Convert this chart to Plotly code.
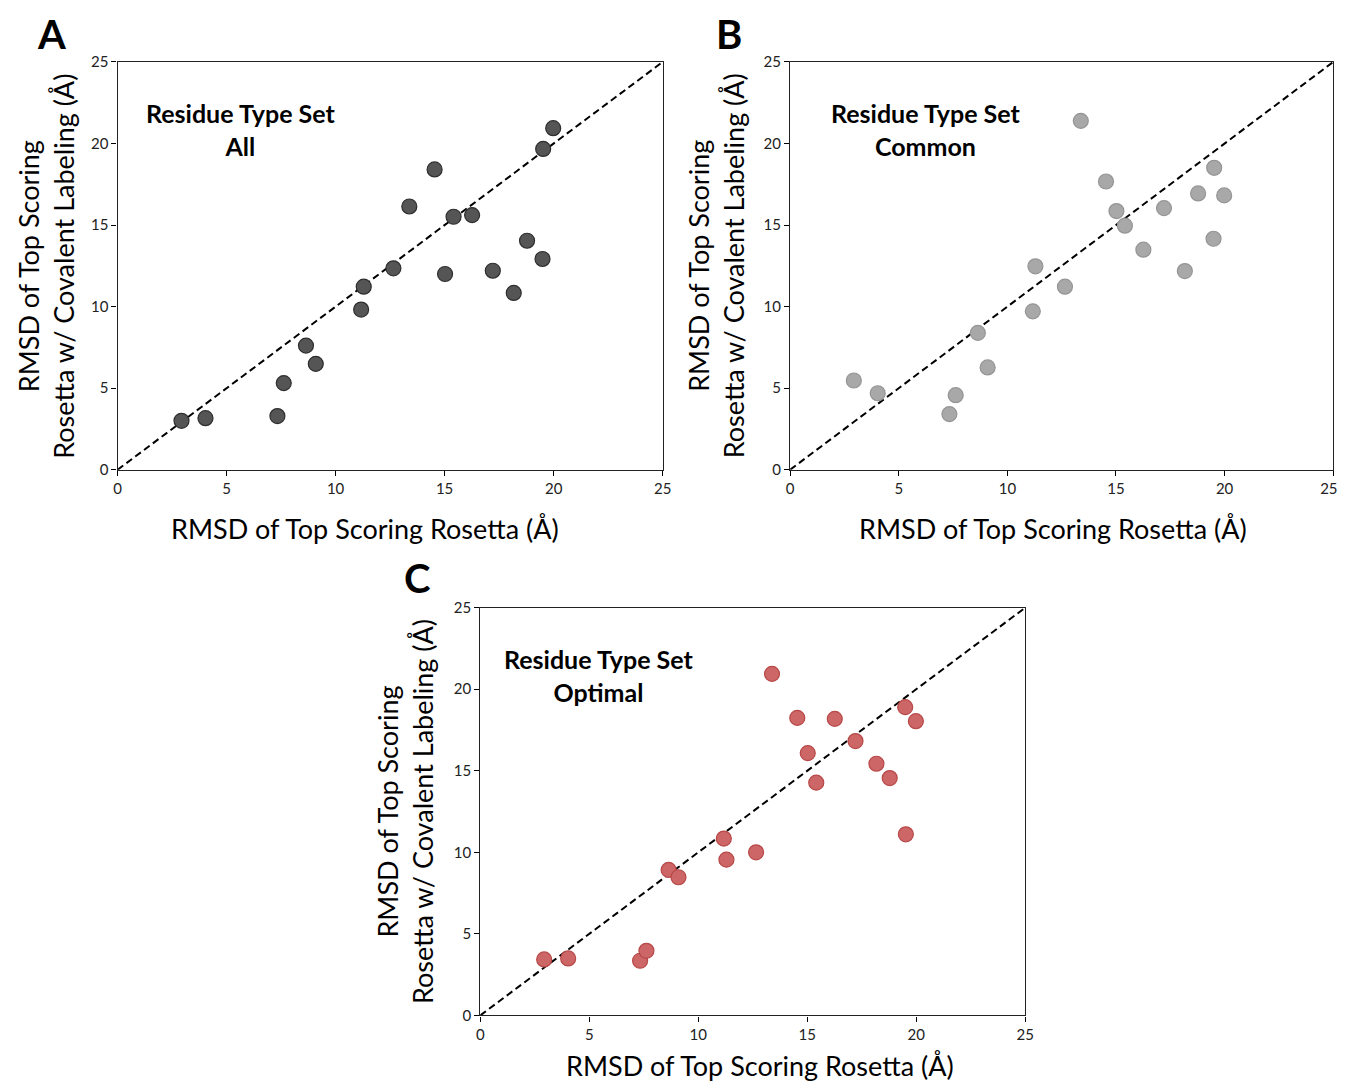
import plotly.graph_objects as go

W, H = 1351, 1084

# ---- data ----
rmsd_rosetta = [2.93, 4.03, 7.33, 7.62, 8.64, 9.09, 11.17, 11.29, 12.65, 13.38,
                14.54, 15.02, 15.41, 16.26, 17.21, 18.17, 18.78, 19.49, 19.52, 19.98]
rmsd_all = [3.0, 3.16, 3.29, 5.31, 7.61, 6.49, 9.82, 11.22, 12.35, 16.14,
            18.41, 12.0, 15.51, 15.61, 12.2, 10.84, 14.04, 12.92, 19.67, 20.94]
rmsd_common = [5.47, 4.69, 3.41, 4.57, 8.39, 6.27, 9.71, 12.47, 11.22, 21.39,
               17.67, 15.86, 14.96, 13.49, 16.04, 12.18, 16.94, 14.16, 18.51, 16.82]
rmsd_optimal = [3.43, 3.49, 3.35, 3.96, 8.92, 8.47, 10.84, 9.55, 10.0, 20.94,
                18.24, 16.08, 14.27, 18.18, 16.82, 15.43, 14.55, 18.9, 11.1, 18.04]
panel_sets = ["All", "Common", "Optimal"]
panel_letters = ["A", "B", "C"]
diag = [0, 25]
tick_vals = [0, 5, 10, 15, 20, 25]
tick_labels = ["0", "5", "10", "15", "20", "25"]

# ---- layout: positions measured on the reference picture (pixels) ----
boxes = {  # left, right, top, bottom
    "A": (118, 665, 61, 469),
    "B": (793, 1338, 61, 469),
    "C": (482, 1029, 607, 1015),
}
styles = {
    "A": dict(fill="rgba(85,85,85,1)", line="#2e2e2e"),
    "B": dict(fill="rgba(168,168,168,1)", line="#959595"),
    "C": dict(fill="rgba(205,102,102,1)", line="#b84848"),
}
ydata = {"A": rmsd_all, "B": rmsd_common, "C": rmsd_optimal}
FONT = "Lato"

# calibration from the rendered picture to the figure's pixel grid
SX, CX = 0.991, 12.0
SY, CY = 0.984, 17.0


def fx(x):
    return (x - CX) / SX


def fy(y):
    return (y - CY) / SY


def px(x):
    return fx(x) / W


def py(y):
    return 1 - fy(y) / H


fig = go.Figure()
annotations = []
layout_axes = {}

for i, key in enumerate(panel_letters):
    l, r, t, b = boxes[key]
    n = "" if i == 0 else str(i + 1)
    xa, ya = "x" + n, "y" + n
    fig.add_trace(go.Scatter(
        x=diag, y=diag, mode="lines", xaxis=xa, yaxis=ya,
        line=dict(color="black", width=2, dash="7px,4px"),
        showlegend=False, hoverinfo="skip"))
    fig.add_trace(go.Scatter(
        x=rmsd_rosetta, y=ydata[key], mode="markers", xaxis=xa, yaxis=ya,
        marker=dict(size=15, color=styles[key]["fill"],
                    line=dict(color=styles[key]["line"], width=1.2)),
        showlegend=False))
    axis_common = dict(
        range=[0, 25], tickvals=tick_vals, ticktext=tick_labels,
        ticks="outside", ticklen=5,
        tickwidth=1, tickcolor="black", showline=True, linecolor="#222",
        linewidth=1.3, mirror=True, showgrid=False, zeroline=False,
        tickfont=dict(family=FONT, size=15, color="#222"), fixedrange=True)
    xaxis_def = dict(axis_common, domain=[px(l), px(r)], anchor=ya)
    if key == "B":
        # keep the last label inside the window's right edge
        xaxis_def["ticktext"] = tick_labels[:-1] + [tick_labels[-1] + "\u2007"]
    layout_axes["xaxis" + n] = xaxis_def
    layout_axes["yaxis" + n] = dict(axis_common, domain=[py(b), py(t)],
                                    anchor=xa)

    # panel text
    cx_text = {"A": 241, "B": 929, "C": 601}[key]
    annotations.append(dict(
        x=px(cx_text), y=py(t + 68), xref="paper", yref="paper",
        text="<b>Residue Type Set<br>" + panel_sets[i] + "</b>",
        showarrow=False, xanchor="center", yanchor="middle",
        font=dict(family=FONT, size=25, color="black")))
    # panel letter
    letter_pos = {"A": (52, 33), "B": (732, 33), "C": (418, 577)}[key]
    annotations.append(dict(
        x=px(letter_pos[0]), y=py(letter_pos[1]), xref="paper", yref="paper",
        text="<b>" + key + "</b>", showarrow=False,
        xanchor="center", yanchor="middle",
        font=dict(family=FONT, size=40, color="black")))
    # x title
    xt_center = {"A": 366, "B": 1057, "C": 763}[key]
    xt_y = {"A": b + 59, "B": b + 59, "C": b + 50}[key]
    annotations.append(dict(
        x=px(xt_center), y=py(xt_y), xref="paper", yref="paper",
        text="RMSD of Top Scoring Rosetta (Å)", showarrow=False,
        xanchor="center", yanchor="middle",
        font=dict(family=FONT, size=27, color="black")))
    # y title
    yt_center = {"A": 46, "B": 718, "C": 406}[key]
    annotations.append(dict(
        x=px(yt_center), y=py((t + b) / 2), xref="paper", yref="paper",
        text="RMSD of Top Scoring<br>Rosetta w/ Covalent Labeling (Å)",
        showarrow=False, textangle=-90, xanchor="center", yanchor="middle",
        font=dict(family=FONT, size=27, color="black")))

fig.update_layout(
    width=W, height=H, margin=dict(l=0, r=0, t=0, b=0),
    paper_bgcolor="white", plot_bgcolor="white",
    annotations=annotations, **layout_axes)

fig.write_html("out.html", config={"displayModeBar": False})
